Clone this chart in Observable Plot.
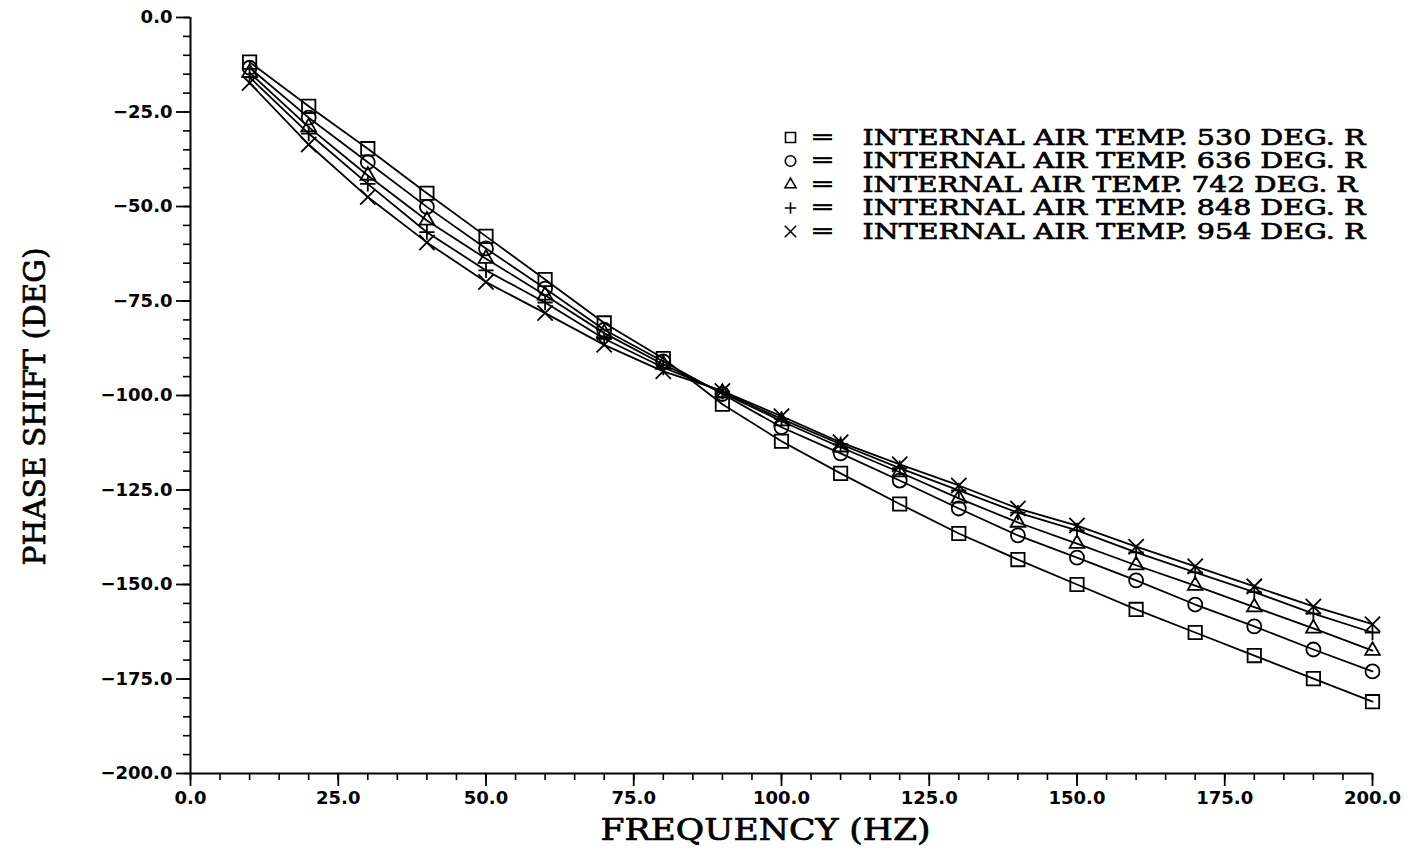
<!DOCTYPE html>
<html>
<head>
<meta charset="utf-8">
<script src="https://cdn.jsdelivr.net/npm/d3@7"></script>
<script src="https://cdn.jsdelivr.net/npm/@observablehq/plot@0.6"></script>
<style>
  html, body { margin: 0; padding: 0; background: #fff; }
  #chart { position: absolute; left: 0; top: 0; }
</style>
</head>
<body>
<div id="chart"></div>
<script>
const freq = [10, 20, 30, 40, 50, 60, 70, 80, 90, 100, 110, 120, 130, 140, 150, 160, 170, 180, 190, 200];
const t530 = [-11.8, -23.5, -34.7, -46.5, -57.9, -69.3, -80.8, -90.2, -102.3, -112.1, -120.6, -128.7, -136.5, -143.4, -150.0, -156.6, -162.7, -168.8, -174.9, -181.0];
const t636 = [-13.3, -26.5, -38.3, -50.1, -61.1, -71.7, -82.6, -91.0, -99.6, -108.4, -115.3, -122.5, -129.9, -137.0, -142.9, -148.9, -155.3, -161.1, -167.2, -173.0];
const t742 = [-14.6, -29.0, -41.8, -53.7, -63.8, -73.5, -83.5, -91.8, -99.3, -106.8, -113.7, -120.3, -127.2, -133.6, -139.2, -144.9, -150.3, -156.0, -161.6, -167.5];
const t848 = [-15.8, -30.7, -44.0, -56.8, -66.9, -75.4, -85.0, -92.6, -99.0, -106.2, -112.9, -119.2, -125.1, -131.0, -135.7, -141.5, -146.8, -152.0, -157.7, -162.7];
const t954 = [-17.3, -33.6, -47.5, -59.5, -70.0, -78.2, -86.6, -93.6, -98.8, -105.5, -112.4, -118.2, -123.8, -129.9, -134.4, -140.0, -145.2, -150.5, -155.8, -160.5];

const seriesNames = ["INTERNAL AIR TEMP. 530 DEG. R", "INTERNAL AIR TEMP. 636 DEG. R", "INTERNAL AIR TEMP. 742 DEG. R", "INTERNAL AIR TEMP. 848 DEG. R", "INTERNAL AIR TEMP. 954 DEG. R"];
const seriesValues = [t530, t636, t742, t848, t954];
const xTicks = [0, 25, 50, 75, 100, 125, 150, 175, 200];
const yTicks = [0, -25, -50, -75, -100, -125, -150, -175, -200];
const xTitle = "FREQUENCY (HZ)";
const yTitle = "PHASE SHIFT (DEG)";

const symbols = ["square2", "circle", "triangle2", "plus", "times"];
const radii = [8.5, 7, 7, 5, 7];

const serif = "'DejaVu Serif', 'Liberation Serif', serif";
const sans = "'DejaVu Sans', sans-serif";

const marks = [];
const fmt = d3.format(".1f");

// minor ticks
marks.push(Plot.axisY(d3.range(-200, 0.1, 5), {tickSize: 7, tickFormat: () => "", strokeWidth: 1.6, label: null}));
marks.push(Plot.axisX(d3.range(0, 200.1, 5), {tickSize: 7, tickFormat: () => "", strokeWidth: 1.6, label: null}));
// major ticks
marks.push(Plot.axisY(yTicks, {tickSize: 14, tickPadding: 4, tickFormat: fmt, fontSize: 18, fontWeight: "bold", fontFamily: sans, strokeWidth: 1.8, label: null}));
marks.push(Plot.axisX(xTicks, {tickSize: 13, tickPadding: 5, tickFormat: fmt, fontSize: 18, fontWeight: "bold", fontFamily: sans, strokeWidth: 1.8, label: null}));
// axis lines
marks.push(Plot.ruleX([0], {y1: -200, y2: 0, strokeWidth: 2}));
marks.push(Plot.ruleY([-200], {x1: 0, x2: 200, strokeWidth: 2}));

const heavy = {fill: "black", stroke: "black", strokeWidth: 0.7};

// axis titles
marks.push(Plot.text([yTitle], {frameAnchor: "left", textAnchor: "middle", dx: -155, dy: 11, rotate: -90, fontSize: 29, fontFamily: serif, ...heavy}));
marks.push(Plot.text([xTitle], {frameAnchor: "bottom", textAnchor: "middle", dx: -16, dy: 66, fontSize: 29, fontFamily: serif, ...heavy}));

seriesValues.forEach((vals, i) => {
  const data = freq.map((f, j) => ({f, v: vals[j]}));
  marks.push(Plot.line(data, {x: "f", y: "v", stroke: "black", strokeWidth: 1.8}));
  marks.push(Plot.dot(data, {x: "f", y: "v", symbol: symbols[i], r: radii[i], stroke: "black", strokeWidth: 1.8, fill: "none"}));
  // legend
  const dy = 120 + i * 23.5;
  marks.push(Plot.dot([0], {frameAnchor: "top-left", dx: 600, dy, symbol: symbols[i], r: radii[i] * 0.75, stroke: "black", strokeWidth: 1.6, fill: "none"}));
  marks.push(Plot.text(["="], {frameAnchor: "top-left", textAnchor: "middle", lineAnchor: "middle", dx: 632, dy: dy - 1, fontSize: 19, fontFamily: sans, ...heavy}));
  marks.push(Plot.text([seriesNames[i]], {frameAnchor: "top-left", textAnchor: "start", lineAnchor: "middle", dx: 672, dy, fontSize: 22.5, fontFamily: serif, ...heavy}));
});

const chart = Plot.plot({
  width: 1421,
  height: 865,
  marginLeft: 190,
  marginRight: 49,
  marginTop: 17,
  marginBottom: 92,
  x: {domain: [0, 200], label: null},
  y: {domain: [-200, 0], label: null},
  style: {background: "#fff", color: "#000"},
  marks
});
document.getElementById("chart").appendChild(chart);

// stretch wide typewriter-style texts to match the reference widths
d3.select(chart).selectAll("text").each(function () {
  const t = this.textContent;
  let len = null;
  if (seriesNames.includes(t)) len = t.includes("742") ? 495 : 503;
  else if (t === xTitle) len = 330;
  else if (t === yTitle) len = 318;
  else if (t === "=") len = 24;
  if (len) {
    this.setAttribute("textLength", len);
    this.setAttribute("lengthAdjust", "spacingAndGlyphs");
  }
});
</script>
</body>
</html>
